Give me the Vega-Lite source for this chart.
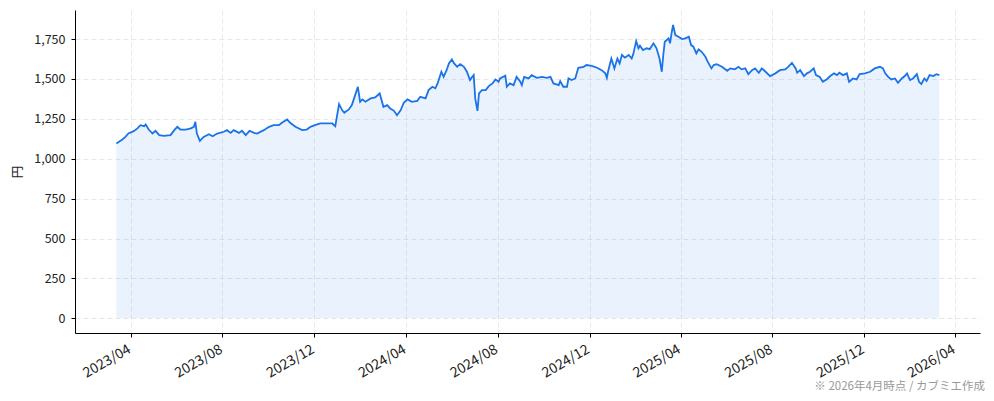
{
  "$schema": "https://vega.github.io/schema/vega-lite/v6.json",
  "autosize": {"type": "none"},
  "padding": {"left": 75, "top": 10, "right": 14, "bottom": 68},
  "width": 905,
  "height": 323,
  "background": "white",
  "config": {
    "font": "Noto Sans CJK JP",
    "view": {"stroke": null},
    "axis": {
      "domainColor": "#000000",
      "domainWidth": 1,
      "tickColor": "#000000",
      "tickSize": 4,
      "labelColor": "#222222",
      "labelFontSize": 12.5,
      "gridColor": "#e2e2e2",
      "gridDash": [5, 3],
      "gridWidth": 0.8
    }
  },
  "title": {
    "text": "※ 2026年4月時点 / カブミエ作成",
    "orient": "bottom",
    "anchor": "end",
    "frame": "group",
    "fontSize": 11.5,
    "fontWeight": "normal",
    "color": "#999999",
    "offset": 1,
    "dx": 5
  },
  "data": {
    "values": [
      {"date": "2023-03-13", "price": 1096},
      {"date": "2023-03-21", "price": 1121},
      {"date": "2023-03-25", "price": 1137},
      {"date": "2023-03-29", "price": 1158},
      {"date": "2023-04-05", "price": 1173},
      {"date": "2023-04-10", "price": 1190},
      {"date": "2023-04-14", "price": 1210},
      {"date": "2023-04-19", "price": 1204},
      {"date": "2023-04-21", "price": 1215},
      {"date": "2023-04-25", "price": 1183},
      {"date": "2023-04-30", "price": 1158},
      {"date": "2023-05-04", "price": 1175},
      {"date": "2023-05-09", "price": 1148},
      {"date": "2023-05-15", "price": 1143},
      {"date": "2023-05-24", "price": 1148},
      {"date": "2023-05-29", "price": 1179},
      {"date": "2023-06-02", "price": 1200},
      {"date": "2023-06-06", "price": 1183},
      {"date": "2023-06-13", "price": 1183},
      {"date": "2023-06-20", "price": 1190},
      {"date": "2023-06-24", "price": 1200},
      {"date": "2023-06-26", "price": 1231},
      {"date": "2023-06-28", "price": 1158},
      {"date": "2023-07-02", "price": 1112},
      {"date": "2023-07-07", "price": 1137},
      {"date": "2023-07-14", "price": 1154},
      {"date": "2023-07-19", "price": 1141},
      {"date": "2023-07-25", "price": 1158},
      {"date": "2023-08-03", "price": 1169},
      {"date": "2023-08-07", "price": 1179},
      {"date": "2023-08-12", "price": 1162},
      {"date": "2023-08-16", "price": 1179},
      {"date": "2023-08-23", "price": 1162},
      {"date": "2023-08-27", "price": 1175},
      {"date": "2023-09-01", "price": 1148},
      {"date": "2023-09-06", "price": 1175},
      {"date": "2023-09-12", "price": 1162},
      {"date": "2023-09-16", "price": 1158},
      {"date": "2023-09-25", "price": 1179},
      {"date": "2023-10-02", "price": 1200},
      {"date": "2023-10-08", "price": 1210},
      {"date": "2023-10-15", "price": 1210},
      {"date": "2023-10-19", "price": 1225},
      {"date": "2023-10-26", "price": 1246},
      {"date": "2023-10-30", "price": 1225},
      {"date": "2023-11-06", "price": 1200},
      {"date": "2023-11-15", "price": 1179},
      {"date": "2023-11-21", "price": 1183},
      {"date": "2023-11-26", "price": 1200},
      {"date": "2023-12-02", "price": 1210},
      {"date": "2023-12-09", "price": 1221},
      {"date": "2023-12-20", "price": 1221},
      {"date": "2023-12-25", "price": 1221},
      {"date": "2023-12-29", "price": 1204},
      {"date": "2024-01-03", "price": 1342},
      {"date": "2024-01-07", "price": 1305},
      {"date": "2024-01-10", "price": 1288},
      {"date": "2024-01-16", "price": 1309},
      {"date": "2024-01-20", "price": 1336},
      {"date": "2024-01-23", "price": 1378},
      {"date": "2024-01-28", "price": 1451},
      {"date": "2024-01-31", "price": 1357},
      {"date": "2024-02-03", "price": 1372},
      {"date": "2024-02-07", "price": 1357},
      {"date": "2024-02-14", "price": 1378},
      {"date": "2024-02-20", "price": 1384},
      {"date": "2024-02-26", "price": 1409},
      {"date": "2024-03-02", "price": 1325},
      {"date": "2024-03-07", "price": 1336},
      {"date": "2024-03-11", "price": 1315},
      {"date": "2024-03-16", "price": 1300},
      {"date": "2024-03-20", "price": 1273},
      {"date": "2024-03-25", "price": 1305},
      {"date": "2024-03-29", "price": 1351},
      {"date": "2024-04-03", "price": 1372},
      {"date": "2024-04-09", "price": 1357},
      {"date": "2024-04-16", "price": 1363},
      {"date": "2024-04-20", "price": 1388},
      {"date": "2024-04-27", "price": 1378},
      {"date": "2024-05-01", "price": 1430},
      {"date": "2024-05-06", "price": 1451},
      {"date": "2024-05-10", "price": 1441},
      {"date": "2024-05-13", "price": 1472},
      {"date": "2024-05-18", "price": 1545},
      {"date": "2024-05-21", "price": 1513},
      {"date": "2024-05-25", "price": 1555},
      {"date": "2024-05-28", "price": 1597},
      {"date": "2024-06-01", "price": 1622},
      {"date": "2024-06-04", "price": 1597},
      {"date": "2024-06-08", "price": 1576},
      {"date": "2024-06-12", "price": 1593},
      {"date": "2024-06-17", "price": 1576},
      {"date": "2024-06-21", "price": 1545},
      {"date": "2024-06-25", "price": 1493},
      {"date": "2024-06-28", "price": 1513},
      {"date": "2024-06-30", "price": 1524},
      {"date": "2024-07-02", "price": 1378},
      {"date": "2024-07-05", "price": 1300},
      {"date": "2024-07-07", "price": 1409},
      {"date": "2024-07-11", "price": 1430},
      {"date": "2024-07-16", "price": 1430},
      {"date": "2024-07-20", "price": 1455},
      {"date": "2024-07-25", "price": 1472},
      {"date": "2024-07-29", "price": 1497},
      {"date": "2024-08-02", "price": 1482},
      {"date": "2024-08-04", "price": 1503},
      {"date": "2024-08-11", "price": 1520},
      {"date": "2024-08-13", "price": 1451},
      {"date": "2024-08-17", "price": 1472},
      {"date": "2024-08-22", "price": 1461},
      {"date": "2024-08-26", "price": 1513},
      {"date": "2024-08-31", "price": 1482},
      {"date": "2024-09-02", "price": 1461},
      {"date": "2024-09-05", "price": 1513},
      {"date": "2024-09-11", "price": 1503},
      {"date": "2024-09-15", "price": 1524},
      {"date": "2024-09-22", "price": 1507},
      {"date": "2024-09-29", "price": 1513},
      {"date": "2024-10-05", "price": 1507},
      {"date": "2024-10-10", "price": 1513},
      {"date": "2024-10-14", "price": 1472},
      {"date": "2024-10-21", "price": 1461},
      {"date": "2024-10-23", "price": 1486},
      {"date": "2024-10-27", "price": 1451},
      {"date": "2024-11-01", "price": 1451},
      {"date": "2024-11-03", "price": 1503},
      {"date": "2024-11-07", "price": 1493},
      {"date": "2024-11-12", "price": 1503},
      {"date": "2024-11-16", "price": 1570},
      {"date": "2024-11-23", "price": 1576},
      {"date": "2024-11-27", "price": 1587},
      {"date": "2024-12-04", "price": 1582},
      {"date": "2024-12-11", "price": 1570},
      {"date": "2024-12-17", "price": 1555},
      {"date": "2024-12-22", "price": 1535},
      {"date": "2024-12-24", "price": 1507},
      {"date": "2024-12-26", "price": 1555},
      {"date": "2024-12-30", "price": 1628},
      {"date": "2025-01-03", "price": 1566},
      {"date": "2025-01-07", "price": 1628},
      {"date": "2025-01-10", "price": 1597},
      {"date": "2025-01-13", "price": 1650},
      {"date": "2025-01-17", "price": 1633},
      {"date": "2025-01-22", "price": 1650},
      {"date": "2025-01-26", "price": 1628},
      {"date": "2025-01-28", "price": 1654},
      {"date": "2025-02-01", "price": 1737},
      {"date": "2025-02-04", "price": 1692},
      {"date": "2025-02-06", "price": 1708},
      {"date": "2025-02-10", "price": 1681},
      {"date": "2025-02-15", "price": 1692},
      {"date": "2025-02-19", "price": 1687},
      {"date": "2025-02-24", "price": 1723},
      {"date": "2025-02-28", "price": 1692},
      {"date": "2025-03-04", "price": 1628},
      {"date": "2025-03-07", "price": 1545},
      {"date": "2025-03-09", "price": 1650},
      {"date": "2025-03-11", "price": 1733},
      {"date": "2025-03-16", "price": 1754},
      {"date": "2025-03-18", "price": 1723},
      {"date": "2025-03-20", "price": 1785},
      {"date": "2025-03-22", "price": 1838},
      {"date": "2025-03-25", "price": 1775},
      {"date": "2025-03-29", "price": 1764},
      {"date": "2025-04-03", "price": 1750},
      {"date": "2025-04-07", "price": 1754},
      {"date": "2025-04-12", "price": 1764},
      {"date": "2025-04-15", "price": 1712},
      {"date": "2025-04-18", "price": 1702},
      {"date": "2025-04-22", "price": 1660},
      {"date": "2025-04-25", "price": 1685},
      {"date": "2025-04-29", "price": 1670},
      {"date": "2025-05-04", "price": 1639},
      {"date": "2025-05-07", "price": 1608},
      {"date": "2025-05-12", "price": 1566},
      {"date": "2025-05-15", "price": 1587},
      {"date": "2025-05-19", "price": 1593},
      {"date": "2025-05-26", "price": 1576},
      {"date": "2025-06-02", "price": 1551},
      {"date": "2025-06-06", "price": 1566},
      {"date": "2025-06-12", "price": 1560},
      {"date": "2025-06-17", "price": 1576},
      {"date": "2025-06-21", "price": 1560},
      {"date": "2025-06-26", "price": 1566},
      {"date": "2025-06-30", "price": 1530},
      {"date": "2025-07-05", "price": 1555},
      {"date": "2025-07-09", "price": 1566},
      {"date": "2025-07-14", "price": 1539},
      {"date": "2025-07-18", "price": 1566},
      {"date": "2025-07-23", "price": 1545},
      {"date": "2025-07-29", "price": 1518},
      {"date": "2025-08-05", "price": 1535},
      {"date": "2025-08-11", "price": 1555},
      {"date": "2025-08-18", "price": 1560},
      {"date": "2025-08-22", "price": 1576},
      {"date": "2025-08-27", "price": 1601},
      {"date": "2025-09-01", "price": 1566},
      {"date": "2025-09-03", "price": 1539},
      {"date": "2025-09-07", "price": 1555},
      {"date": "2025-09-12", "price": 1518},
      {"date": "2025-09-16", "price": 1535},
      {"date": "2025-09-20", "price": 1545},
      {"date": "2025-09-25", "price": 1566},
      {"date": "2025-09-28", "price": 1524},
      {"date": "2025-10-03", "price": 1513},
      {"date": "2025-10-07", "price": 1482},
      {"date": "2025-10-12", "price": 1497},
      {"date": "2025-10-17", "price": 1518},
      {"date": "2025-10-22", "price": 1535},
      {"date": "2025-10-26", "price": 1524},
      {"date": "2025-10-29", "price": 1539},
      {"date": "2025-11-03", "price": 1524},
      {"date": "2025-11-08", "price": 1535},
      {"date": "2025-11-11", "price": 1482},
      {"date": "2025-11-16", "price": 1503},
      {"date": "2025-11-21", "price": 1497},
      {"date": "2025-11-25", "price": 1530},
      {"date": "2025-12-02", "price": 1535},
      {"date": "2025-12-09", "price": 1545},
      {"date": "2025-12-15", "price": 1566},
      {"date": "2025-12-22", "price": 1576},
      {"date": "2025-12-26", "price": 1566},
      {"date": "2025-12-29", "price": 1535},
      {"date": "2026-01-02", "price": 1513},
      {"date": "2026-01-06", "price": 1497},
      {"date": "2026-01-11", "price": 1503},
      {"date": "2026-01-15", "price": 1476},
      {"date": "2026-01-20", "price": 1503},
      {"date": "2026-01-24", "price": 1518},
      {"date": "2026-01-27", "price": 1535},
      {"date": "2026-01-31", "price": 1493},
      {"date": "2026-02-04", "price": 1503},
      {"date": "2026-02-09", "price": 1530},
      {"date": "2026-02-12", "price": 1482},
      {"date": "2026-02-15", "price": 1468},
      {"date": "2026-02-19", "price": 1503},
      {"date": "2026-02-22", "price": 1488},
      {"date": "2026-02-26", "price": 1524},
      {"date": "2026-03-03", "price": 1518},
      {"date": "2026-03-07", "price": 1530},
      {"date": "2026-03-11", "price": 1524}
    ]
  },
  "encoding": {
    "x": {
      "field": "date",
      "type": "temporal",
      "scale": {
        "type": "utc",
        "domain": [
          {"year": 2023, "month": 1, "date": 17, "utc": true},
          {"year": 2026, "month": 5, "date": 4, "utc": true}
        ]
      },
      "axis": {
        "title": null,
        "format": "%Y/%m",
        "values": [
          {"year": 2023, "month": 4, "date": 1, "utc": true},
          {"year": 2023, "month": 8, "date": 1, "utc": true},
          {"year": 2023, "month": 12, "date": 1, "utc": true},
          {"year": 2024, "month": 4, "date": 1, "utc": true},
          {"year": 2024, "month": 8, "date": 1, "utc": true},
          {"year": 2024, "month": 12, "date": 1, "utc": true},
          {"year": 2025, "month": 4, "date": 1, "utc": true},
          {"year": 2025, "month": 8, "date": 1, "utc": true},
          {"year": 2025, "month": 12, "date": 1, "utc": true},
          {"year": 2026, "month": 4, "date": 1, "utc": true}
        ],
        "labelAngle": -30,
        "labelAlign": "right",
        "labelBaseline": "top",
        "labelFontSize": 14,
        "labelPadding": 5,
        "labelOffset": -5,
        "labelOverlap": false,
        "labelFlush": false
      }
    },
    "y": {
      "field": "price",
      "type": "quantitative",
      "scale": {"domain": [-92, 1932], "nice": false, "zero": false},
      "axis": {
        "title": "円",
        "titleFontSize": 12.5,
        "titleFontWeight": "normal",
        "titleColor": "#222222",
        "titlePadding": 9,
        "values": [0, 250, 500, 750, 1000, 1250, 1500, 1750],
        "format": ",.0f",
        "labelPadding": 6
      }
    }
  },
  "layer": [
    {
      "mark": {"type": "area", "color": "#1a73e8", "fillOpacity": 0.09, "interpolate": "linear"},
      "encoding": {"y2": {"datum": 0}}
    },
    {
      "mark": {"type": "line", "color": "#1a73e8", "strokeWidth": 1.8, "interpolate": "linear"},
      "encoding": {}
    }
  ]
}
